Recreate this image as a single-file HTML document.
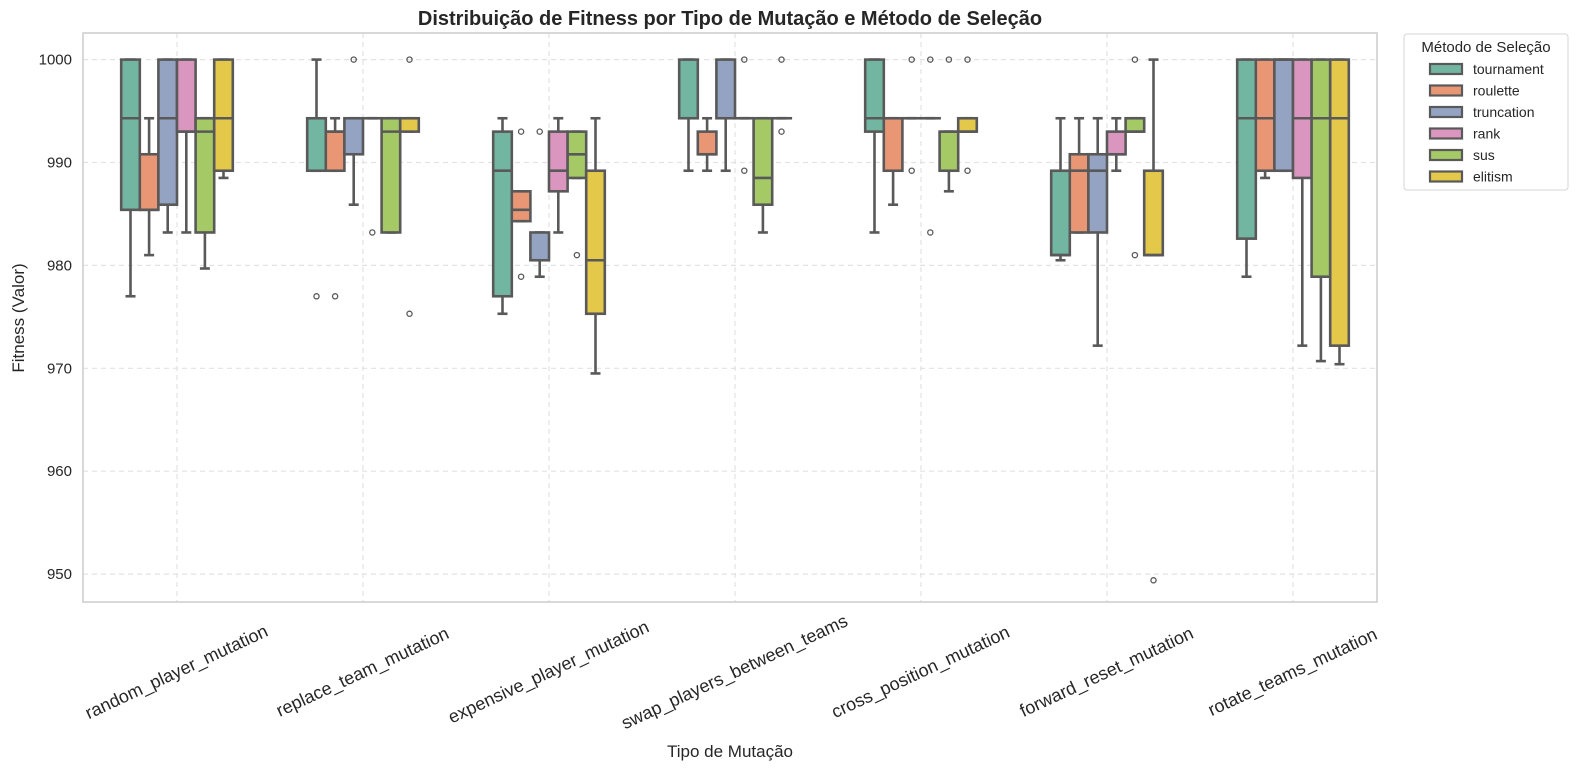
<!DOCTYPE html>
<html><head><meta charset="utf-8"><style>
body{margin:0;background:#fff;font-family:"Liberation Sans",Arial,sans-serif;}
svg text{font-family:"Liberation Sans",Arial,sans-serif;}
</style></head><body>
<svg id="chart" width="1578" height="776" viewBox="0 0 1578 776" xmlns="http://www.w3.org/2000/svg">
<rect x="0" y="0" width="1578" height="776" fill="#fff"/>
<text x="730" y="25" text-anchor="middle" font-size="20" font-weight="bold" fill="#262626">Distribuição de Fitness por Tipo de Mutação e Método de Seleção</text>
<g id="grid"></g>
<g id="marks"></g>
<rect x="83" y="33" width="1294" height="569" fill="none" stroke="#ccc" stroke-width="1.5"/>
<g id="yticks"></g>
<g id="xticks"></g>
<text transform="translate(24,318) rotate(-90)" text-anchor="middle" font-size="17" fill="#262626">Fitness (Valor)</text>
<text x="730" y="757" text-anchor="middle" font-size="17" fill="#262626">Tipo de Mutação</text>
<g id="legend">
<rect x="1404" y="34" width="164" height="156" rx="3" fill="#fff" stroke="#d5d5d5"/>
<text x="1486" y="52" text-anchor="middle" font-size="15" fill="#262626">Método de Seleção</text>
</g>
</svg>
<script>
const categories=["random_player_mutation","replace_team_mutation","expensive_player_mutation","swap_players_between_teams","cross_position_mutation","forward_reset_mutation","rotate_teams_mutation"];
const methods=["tournament","roulette","truncation","rank","sus","elitism"];
const colors=["#72b6a1","#e99675","#95a3c3","#db96c0","#a5c964","#e3c84a"];
const yTicks=[950,960,970,980,990,1000];
const q3Vals=[
[1000,994.3,993.0,1000,1000,989.2,1000],
[990.8,993.0,987.2,993.0,994.3,990.8,1000],
[1000,994.3,983.2,1000,994.3,990.8,1000],
[1000,994.3,993.0,994.3,994.3,993.0,1000],
[994.3,994.3,993.0,994.3,993.0,994.3,1000],
[1000,994.3,989.2,994.3,994.3,989.2,1000]];
const medVals=[
[994.3,994.3,989.2,994.3,994.3,981.0,994.3],
[985.4,993.0,985.4,990.8,994.3,989.2,994.3],
[994.3,994.3,980.5,994.3,994.3,989.2,1000],
[993.0,994.3,989.2,994.3,994.3,990.8,994.3],
[993.0,993.0,990.8,988.5,993.0,993.0,994.3],
[994.3,994.3,980.5,994.3,993.0,981.0,994.3]];
const q1Vals=[
[985.4,989.2,977.0,994.3,993.0,981.0,982.6],
[985.4,989.2,984.3,990.8,989.2,983.2,989.2],
[985.9,990.8,980.5,994.3,994.3,983.2,989.2],
[993.0,994.3,987.2,994.3,994.3,990.8,988.5],
[983.2,983.2,988.5,985.9,989.2,993.0,978.9],
[989.2,993.0,975.3,994.3,993.0,981.0,972.2]];
const loVals=[
[977.0,989.2,975.3,989.2,983.2,980.5,978.9],
[981.0,989.2,984.3,989.2,985.9,983.2,988.5],
[983.2,985.9,978.9,989.2,994.3,972.2,989.2],
[983.2,994.3,983.2,994.3,994.3,989.2,972.2],
[979.7,983.2,988.5,983.2,987.2,993.0,970.7],
[988.5,993.0,969.5,994.3,993.0,981.0,970.4]];
const hiVals=[
[1000,1000,994.3,1000,1000,994.3,1000],
[994.3,994.3,987.2,994.3,994.3,994.3,1000],
[1000,994.3,983.2,1000,994.3,994.3,1000],
[1000,994.3,994.3,994.3,994.3,994.3,1000],
[994.3,994.3,993.0,994.3,993.0,994.3,1000],
[1000,994.3,994.3,994.3,994.3,1000,1000]];
const outVals=[
[[],[977],[],[],[],[],[]],
[[],[977],[993,978.9],[],[],[],[]],
[[],[1000],[993],[],[1000,989.2],[],[]],
[[],[983.2],[],[1000,989.2],[1000,983.2],[],[]],
[[],[],[981.0],[],[1000],[1000,981.0],[]],
[[],[1000,975.3],[],[1000,993],[1000,989.2],[949.4],[]]];

const NS="http://www.w3.org/2000/svg";
function y(v){return 59.6+(1000-v)*10.29;}
function xc(i){return 177+186*i;}
const slotW=18.6;
function mk(tag,attrs,parent){const e=document.createElementNS(NS,tag);for(const k in attrs)e.setAttribute(k,attrs[k]);parent.appendChild(e);return e;}
const grid=document.getElementById('grid'),marks=document.getElementById('marks'),yt=document.getElementById('yticks'),xt=document.getElementById('xticks'),leg=document.getElementById('legend');
yTicks.forEach(t=>{
 const l=mk('line',{x1:83,x2:1377,y1:y(t),y2:y(t),stroke:'#e2e2e2','stroke-width':1.2,'stroke-dasharray':'5,4'},grid);
 
 
 const tx=mk('text',{x:72,y:y(t)+5,'text-anchor':'end','font-size':15,fill:'#262626'},yt);
 tx.textContent=t;
 
 
});
categories.forEach((c,i)=>{
 const l=mk('line',{x1:xc(i),x2:xc(i),y1:33,y2:602,stroke:'#e2e2e2','stroke-width':1.2,'stroke-dasharray':'5,4'},grid);
 
 
 const tx=mk('text',{transform:`translate(${xc(i)},673) rotate(-25)`,'text-anchor':'middle','dominant-baseline':'middle','font-size':18,fill:'#262626'},xt);
 tx.textContent=c;
 
 
});
const ec='#595959',sw=2.6;
methods.forEach((m,k)=>{
 categories.forEach((c,i)=>{
  const cx=xc(i)+(k-2.5)*slotW;
  const g=mk('g',{},marks);
  
  
  const x0=cx-slotW/2;
  mk('line',{x1:cx,x2:cx,y1:y(q3Vals[k][i]),y2:y(hiVals[k][i]),stroke:ec,'stroke-width':sw},g);
  mk('line',{x1:cx,x2:cx,y1:y(q1Vals[k][i]),y2:y(loVals[k][i]),stroke:ec,'stroke-width':sw},g);
  mk('line',{x1:cx-5,x2:cx+5,y1:y(hiVals[k][i]),y2:y(hiVals[k][i]),stroke:ec,'stroke-width':sw},g);
  mk('line',{x1:cx-5,x2:cx+5,y1:y(loVals[k][i]),y2:y(loVals[k][i]),stroke:ec,'stroke-width':sw},g);
  const h=Math.max(0.01,y(q1Vals[k][i])-y(q3Vals[k][i]));
  mk('rect',{x:x0,y:y(q3Vals[k][i]),width:slotW,height:h,fill:colors[k],stroke:ec,'stroke-width':sw},g);
  mk('line',{x1:x0,x2:x0+slotW,y1:y(medVals[k][i]),y2:y(medVals[k][i]),stroke:ec,'stroke-width':sw},g);
  outVals[k][i].forEach(v=>{
   const o=mk('circle',{cx:cx,cy:y(v),r:2.6,fill:'none',stroke:ec,'stroke-width':1.3},g);
   
   
  });
 });
 const ly=69+k*21.5;
 const lr=mk('rect',{x:1430,y:ly-5,width:32,height:10,fill:colors[k],stroke:ec,'stroke-width':2.2},leg);
 
 
 const lt=mk('text',{x:1473,y:ly+5,'font-size':14,fill:'#262626'},leg);
 lt.textContent=m;
 
 
});
</script>
</body></html>
